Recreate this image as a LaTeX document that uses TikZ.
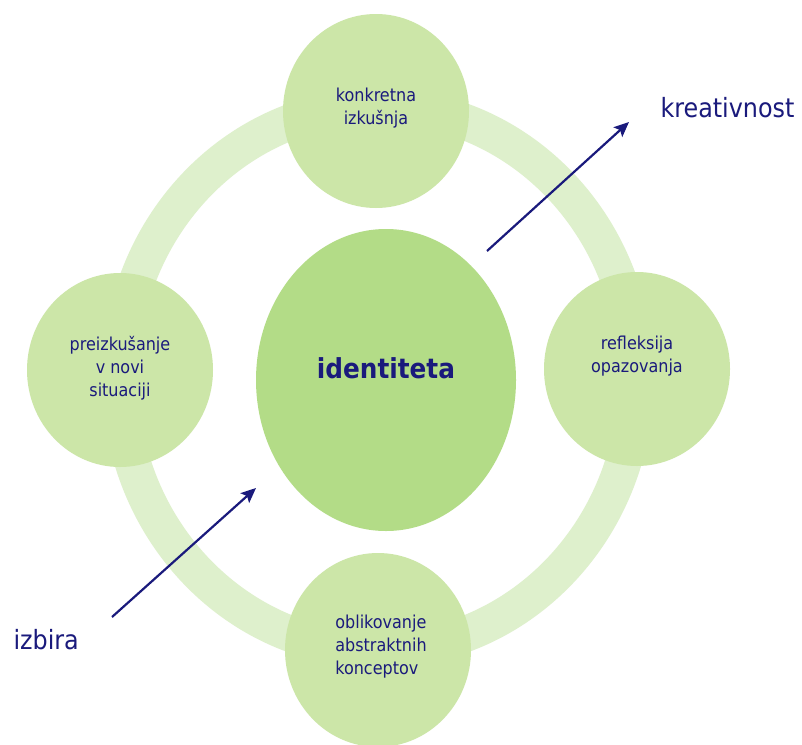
\documentclass[tikz,border=0pt]{standalone}
\usepackage{fontspec}
\setmainfont{DejaVu Sans Condensed}
\usetikzlibrary{shapes.geometric, arrows.meta}

\definecolor{ringgreen}{RGB}{222,240,204}
\definecolor{stagegreen}{RGB}{204,230,168}
\definecolor{coregreen}{RGB}{179,220,135}
\definecolor{labelblue}{RGB}{26,26,124}

\tikzset{
    stage/.style = {ellipse, fill=stagegreen, minimum width=186pt, minimum height=194pt, inner sep=0pt},
    stagetext/.style = {align=center, text=labelblue, font=\fontsize{17.8}{23}\selectfont},
    core/.style = {ellipse, fill=coregreen, minimum width=260pt, minimum height=302pt, inner sep=0pt},
    side/.style = {anchor=west, text=labelblue, font=\fontsize{26.5}{30}\selectfont},
    pointer/.style = {draw=labelblue, line width=2.2pt, -{Stealth[length=15pt, width=13pt, inset=3pt]}}
}

\begin{document}
\begin{tikzpicture}[x=1pt, y=-1pt]
    \useasboundingbox (0, 0) rectangle (802, 744);
    \clip (0, 0) rectangle (802, 744);
    \fill[white] (0, 0) rectangle (802, 744);

    % the cycle behind the four stages
    \draw[ringgreen, line width=36pt] (378, 378) ellipse [x radius=258, y radius=272];

    \node[stage] (top) at (376, 111) {};
    \node[stage] (left) at (120, 370) {};
    \node[stage] (right) at (637, 369) {};
    \node[stage] (bottom) at (378, 650) {};

    \node[stagetext] (toptext) at ([yshift=3pt]top.center) {konkretna\\izkušnja};
    \node[stagetext] (lefttext) at ([yshift=2pt]left.center) {preizkušanje\\v novi\\situaciji};
    \node[stagetext] (righttext) at ([yshift=13pt]right.center) {refleksija\\opazovanja};
    \node[stagetext, align=left] (bottomtext) at ([xshift=3pt, yshift=3pt]bottom.center) {oblikovanje\\abstraktnih\\konceptov};

    \node[core] (core) at (386, 380) {};
    \node[text=labelblue, font=\fontsize{27.5}{30}\selectfont\bfseries] (coretext) at ([yshift=12pt]core.center) {identiteta};

    \node[side] (choice) at (10, 640) {izbira};
    \node[side] (creativity) at (657, 108) {kreativnost};

    \coordinate (choicetail) at (112, 617);
    \coordinate (choicetip) at (256, 488);
    \coordinate (creativetail) at (487, 251);
    \coordinate (creativetip) at (629, 122);
    \draw[pointer] (choicetail) -- (choicetip);
    \draw[pointer] (creativetail) -- (creativetip);
\end{tikzpicture}
\end{document}
